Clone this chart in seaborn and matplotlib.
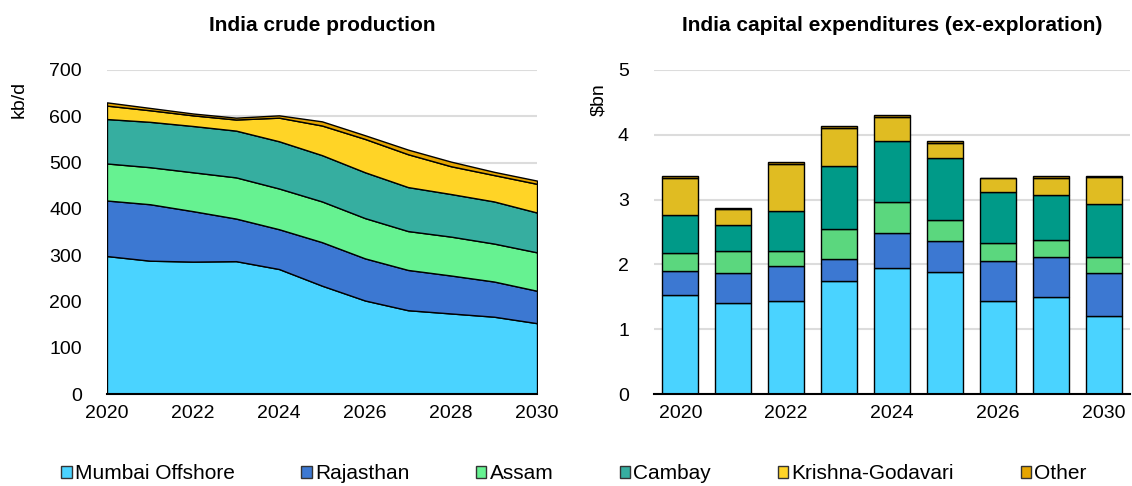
import numpy as np
import pandas as pd
import matplotlib
matplotlib.use("Agg")
import matplotlib.pyplot as plt
import seaborn as sns
from matplotlib.patches import Patch

# --- data ---
years = [2020, 2021, 2022, 2023, 2024, 2025, 2026, 2027, 2028, 2029, 2030]
fields = ["Mumbai Offshore", "Rajasthan", "Assam", "Cambay", "Krishna-Godavari", "Other"]

# crude production, kb/d
prod_mumbai = [298, 288, 286, 287, 270, 234, 202, 181, 174, 167, 153]
prod_rajasthan = [120, 122, 109, 92, 86, 94, 91, 87, 82, 76, 70]
prod_assam = [80, 80, 84, 89, 88, 88, 87, 84, 84, 82, 83]
prod_cambay = [96, 98, 100, 101, 102, 100, 99, 95, 92, 91, 86]
prod_kg = [29, 25, 23, 24, 51, 64, 72, 71, 60, 57, 62]
prod_other = [7, 5, 4, 4, 5, 9, 8, 10, 10, 7, 7]

# capex ex-exploration, $bn
capex_years = ["2020", "2021", "2022", "2023", "2024", "2025", "2026", "2027", "2030"]
capex_mumbai = [1.53, 1.40, 1.44, 1.74, 1.94, 1.89, 1.44, 1.49, 1.20]
capex_rajasthan = [0.37, 0.47, 0.54, 0.35, 0.55, 0.47, 0.61, 0.63, 0.67]
capex_assam = [0.28, 0.34, 0.22, 0.45, 0.48, 0.32, 0.28, 0.26, 0.25]
capex_cambay = [0.58, 0.40, 0.63, 0.98, 0.94, 0.96, 0.79, 0.69, 0.81]
capex_kg = [0.58, 0.24, 0.72, 0.58, 0.37, 0.24, 0.21, 0.26, 0.42]
capex_other = [0.02, 0.02, 0.03, 0.04, 0.03, 0.02, 0.01, 0.04, 0.02]

colors_left = ["#4AD3FF", "#3C78D2", "#66F291", "#36AEA0", "#FFD426", "#E5A500"]
colors_right = ["#4AD3FF", "#3C78D2", "#5BD77E", "#009A88", "#E0BC22", "#B88600"]
legend_colors = ["#4AD3FF", "#3C78D2", "#66F291", "#36AEA0", "#FFD426", "#E5A500"]

sns.set_theme(style="white")
plt.rcParams["font.family"] = ["Liberation Sans", "DejaVu Sans"]
plt.rcParams["text.color"] = "black"
plt.rcParams["axes.labelcolor"] = "black"

fig = plt.figure(figsize=(11.32, 4.86), dpi=100)
ax1 = fig.add_axes([0.0945, 0.1893, 0.3799, 0.6667])
ax2 = fig.add_axes([0.5777, 0.1893, 0.4205, 0.6667])

grid_col = "#DCDCDC"

# left: stacked area
ax1.stackplot(years, prod_mumbai, prod_rajasthan, prod_assam, prod_cambay,
              prod_kg, prod_other, colors=colors_left, edgecolor="black",
              linewidth=1.0, zorder=3)
ax1.set_xlim(2020, 2030)
ax1.set_ylim(0, 700)
ax1.set_yticks(range(0, 701, 100))
ax1.set_xticks(range(2020, 2031, 2))
ax1.set_title("India crude production", fontsize=15, fontweight="bold", pad=28)
ax1.set_ylabel("kb/d", fontsize=14)
ax1.yaxis.set_label_coords(-0.184, 0.91)

# right: stacked bars via seaborn histplot
capex = pd.DataFrame({
    "year": np.tile(capex_years, len(fields)),
    "field": np.repeat(fields, len(capex_years)),
    "value": np.concatenate([capex_mumbai, capex_rajasthan, capex_assam,
                             capex_cambay, capex_kg, capex_other]),
})
capex["year"] = pd.Categorical(capex["year"], categories=capex_years, ordered=True)
sns.histplot(data=capex, x="year", weights="value", hue="field",
             hue_order=fields[::-1], palette=dict(zip(fields, colors_right)),
             multiple="stack", discrete=True, shrink=0.68, alpha=1,
             edgecolor="black", linewidth=1.0, legend=False, ax=ax2, zorder=3)
ax2.set_xlim(-0.5, len(capex_years) - 0.5)
ax2.set_ylim(0, 5)
ax2.set_yticks(range(0, 6))
ax2.set_xticks(range(len(capex_years)))
ax2.set_xticklabels([y if i % 2 == 0 else "" for i, y in enumerate(capex_years)])
ax2.set_xlabel("")
ax2.set_title("India capital expenditures (ex-exploration)", fontsize=15,
              fontweight="bold", pad=28)
ax2.set_ylabel("$bn", fontsize=14)
ax2.yaxis.set_label_coords(-0.099, 0.91)

for ax in (ax1, ax2):
    ax.yaxis.grid(True, color=grid_col, linewidth=1.5, zorder=0)
    ax.xaxis.grid(False)
    ax.set_axisbelow(True)
    for s in ("left", "right", "top"):
        ax.spines[s].set_visible(False)
    ax.spines["bottom"].set_color("black")
    ax.spines["bottom"].set_linewidth(1.5)
    ax.spines["bottom"].set_zorder(5)
    ax.tick_params(axis="both", length=0, labelsize=14, colors="black")
    ax.tick_params(axis="y", pad=18)
    ax.tick_params(axis="x", pad=8)

handles = [Patch(facecolor=c, edgecolor="#333333", linewidth=1.0) for c in legend_colors]
fig.legend(handles, fields, loc="center", bbox_to_anchor=(0.507, 0.025), ncol=6,
           frameon=False, fontsize=15, handlelength=0.5, handleheight=0.5,
           handletextpad=0.15, columnspacing=3.2)

fig.savefig("out.png", dpi=100)
